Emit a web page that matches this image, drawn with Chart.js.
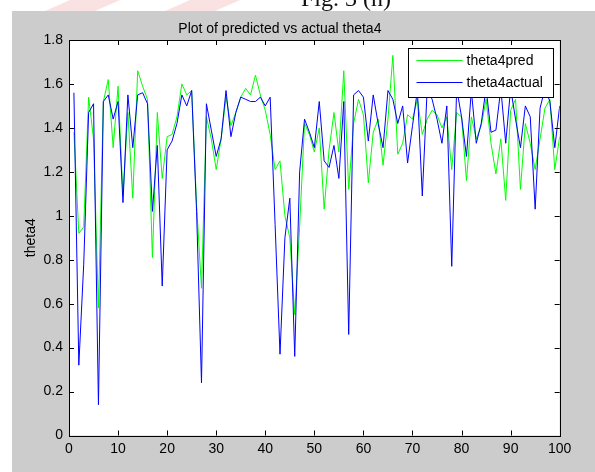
<!DOCTYPE html>
<html>
<head>
<meta charset="utf-8">
<script src="https://cdn.jsdelivr.net/npm/chart.js@4.4.0/dist/chart.umd.min.js"></script>
<style>
  html, body { margin: 0; padding: 0; background: #fff; }
  #wrap { position: relative; width: 595px; height: 472px; }
</style>
</head>
<body>
<div id="wrap"><canvas id="chart"></canvas></div>
<script>
// sample index 1..100
let samples = Array.from({ length: 100 }, (_, i) => i + 1);

let theta4pred = [
  1.38, 0.92, 0.95, 1.54, 1.35, 0.58, 1.52, 1.62, 1.31, 1.59,
  1.09, 1.47, 1.08, 1.66, 1.59, 1.53, 0.81, 1.47, 1.17, 1.36,
  1.37, 1.45, 1.60, 1.55, 1.57, 1.05, 0.67, 1.45, 1.35, 1.21,
  1.35, 1.54, 1.41, 1.47, 1.54, 1.58, 1.55, 1.64, 1.55, 1.48,
  1.37, 1.21, 1.25, 1.00, 0.90, 0.55, 0.95, 1.42, 1.37, 1.29,
  1.40, 1.03, 1.30, 1.47, 1.29, 1.66, 1.12, 1.42, 1.53, 1.46,
  1.15, 1.38, 1.44, 1.23, 1.44, 1.73, 1.28, 1.33, 1.46, 1.44,
  1.53, 1.37, 1.44, 1.48, 1.46, 1.40, 1.45, 1.21, 1.47, 1.45,
  1.16, 1.45, 1.35, 1.41, 1.53, 1.33, 1.19, 1.35, 1.07, 1.48,
  1.53, 1.12, 1.42, 1.33, 1.21, 1.35, 1.49, 1.53, 1.21, 1.36
];

let theta4actual = [
  1.56, 0.32, 0.78, 1.47, 1.51, 0.14, 1.52, 1.55, 1.44, 1.52,
  1.06, 1.55, 1.31, 1.55, 1.56, 1.51, 1.02, 1.32, 0.68, 1.30,
  1.34, 1.42, 1.55, 1.50, 1.57, 1.02, 0.24, 1.51, 1.39, 1.27,
  1.35, 1.57, 1.36, 1.47, 1.54, 1.53, 1.52, 1.52, 1.54, 1.50,
  1.54, 0.96, 0.37, 0.90, 1.08, 0.36, 1.20, 1.44, 1.38, 1.31,
  1.52, 1.25, 1.22, 1.32, 1.17, 1.52, 0.46, 1.55, 1.57, 1.54,
  1.34, 1.55, 1.42, 1.31, 1.57, 1.53, 1.42, 1.50, 1.24, 1.41,
  1.57, 1.09, 1.58, 1.53, 1.44, 1.33, 1.50, 0.77, 1.58, 1.45,
  1.27, 1.57, 1.33, 1.42, 1.58, 1.38, 1.39, 1.58, 1.33, 1.58,
  1.44, 1.31, 1.50, 1.45, 1.03, 1.49, 1.58, 1.52, 1.31, 1.50
];

let xTicks = [0, 10, 20, 30, 40, 50, 60, 70, 80, 90, 100];
let yTicks = [0, 0.2, 0.4, 0.6, 0.8, 1, 1.2, 1.4, 1.6, 1.8];

const predColor = 'rgb(0, 255, 0)';
const actualColor = 'rgb(0, 0, 255)';
const font = { family: '"Liberation Sans", Arial, sans-serif', size: 14 };

// matlab style figure: grey frame, boxed axes with inward ticks, legend inside
const figureFrame = {
  id: 'figureFrame',
  beforeDraw(chart) {
    const { ctx, width, height, chartArea: a } = chart;
    ctx.save();
    ctx.fillStyle = '#fff';
    ctx.fillRect(0, 0, width, height);
    // faint watermark on the page
    ctx.fillStyle = 'rgba(235, 140, 140, 0.25)';
    ctx.beginPath();
    ctx.moveTo(70, 0); ctx.lineTo(120, 0); ctx.lineTo(95, 11); ctx.lineTo(45, 11);
    ctx.closePath(); ctx.fill();
    ctx.beginPath();
    ctx.moveTo(190, 0); ctx.lineTo(240, 0); ctx.lineTo(215, 11); ctx.lineTo(165, 11);
    ctx.closePath(); ctx.fill();
    // caption of the page, cut off at the top
    ctx.fillStyle = '#111';
    ctx.font = '24px "Liberation Serif", "Times New Roman", serif';
    ctx.textAlign = 'center';
    ctx.textBaseline = 'alphabetic';
    ctx.fillText('Fig. 3 (n)', 346, 6);
    ctx.fillStyle = '#cccccc';
    ctx.fillRect(12, 11, width - 12, height - 11);
    ctx.fillStyle = '#fff';
    ctx.fillRect(a.left, a.top, a.right - a.left, a.bottom - a.top);
    ctx.restore();
  },
  afterDatasetsDraw(chart) {
    const { ctx, chartArea: a, scales } = chart;
    ctx.save();
    ctx.strokeStyle = '#000';
    ctx.lineWidth = 1;
    ctx.beginPath();
    xTicks.forEach(v => {
      const px = Math.round(scales.x.getPixelForValue(v)) + 0.5;
      ctx.moveTo(px, a.bottom); ctx.lineTo(px, a.bottom - 5);
      ctx.moveTo(px, a.top); ctx.lineTo(px, a.top + 5);
    });
    yTicks.forEach(v => {
      const py = Math.round(scales.y.getPixelForValue(v)) + 0.5;
      ctx.moveTo(a.left, py); ctx.lineTo(a.left + 5, py);
      ctx.moveTo(a.right, py); ctx.lineTo(a.right - 5, py);
    });
    ctx.stroke();
    ctx.strokeRect(Math.round(a.left) + 0.5, Math.round(a.top) + 0.5,
      Math.round(a.right - a.left), Math.round(a.bottom - a.top));

    // legend box
    const lw = 145, lh = 49;
    const lx = Math.round(a.right - 7 - lw) + 0.5, ly = Math.round(a.top + 8) + 0.5;
    ctx.fillStyle = '#fff';
    ctx.fillRect(lx, ly, lw, lh);
    ctx.strokeRect(lx, ly, lw, lh);
    ctx.font = '14px ' + font.family;
    ctx.textAlign = 'left';
    ctx.textBaseline = 'middle';
    const entries = [['theta4pred', predColor], ['theta4actual', actualColor]];
    entries.forEach(([label, color], k) => {
      const y = ly + 12 + k * 22;
      ctx.lineWidth = 1.2;
      ctx.strokeStyle = color;
      ctx.beginPath();
      ctx.moveTo(lx + 8, y);
      ctx.lineTo(lx + 54, y);
      ctx.stroke();
      ctx.fillStyle = '#000';
      ctx.fillText(label, lx + 58, y + 1);
    });
    ctx.restore();
  }
};

let ctx = document.getElementById('chart').getContext('2d');
let myChart = new Chart(ctx, {
  type: 'line',
  data: {
    labels: samples,
    datasets: [{
      label: 'theta4pred',
      data: theta4pred,
      borderColor: predColor,
      borderWidth: 1,
      pointRadius: 0,
      tension: 0,
      order: 1
    }, {
      label: 'theta4actual',
      data: theta4actual,
      borderColor: actualColor,
      borderWidth: 1,
      pointRadius: 0,
      tension: 0,
      order: 0
    }]
  },
  options: {
    responsive: true,
    maintainAspectRatio: false,
    animation: false,
    events: [],
    layout: { padding: { top: 20.6, right: 35.3, bottom: 0, left: 0 } },
    plugins: {
      legend: { display: false },
      tooltip: { enabled: false },
      title: {
        display: true,
        text: 'Plot of predicted vs actual theta4',
        color: '#000',
        font: { family: font.family, size: 14, weight: 'normal' },
        padding: { top: 0, bottom: 2.6 }
      }
    },
    scales: {
      x: {
        type: 'linear',
        min: 0,
        max: 100,
        afterBuildTicks: s => { s.ticks = xTicks.map(v => ({ value: v })); },
        afterFit: s => { s.height = 36.5; },
        grid: { drawOnChartArea: false, drawTicks: false },
        border: { display: false },
        ticks: { color: '#000', font: font, padding: 5, maxRotation: 0, autoSkip: false }
      },
      y: {
        min: 0,
        max: 1.8,
        afterBuildTicks: s => { s.ticks = yTicks.map(v => ({ value: v })); },
        afterFit: s => { s.width = 69; },
        grid: { drawOnChartArea: false, drawTicks: false },
        border: { display: false },
        ticks: {
          color: '#000',
          font: font,
          padding: 6,
          autoSkip: false,
          callback: v => String(Math.round(v * 10) / 10)
        },
        title: {
          display: true,
          text: 'theta4',
          color: '#000',
          font: font,
          padding: { top: 23, bottom: 0 }
        }
      }
    }
  },
  plugins: [figureFrame]
});
</script>
</body>
</html>
